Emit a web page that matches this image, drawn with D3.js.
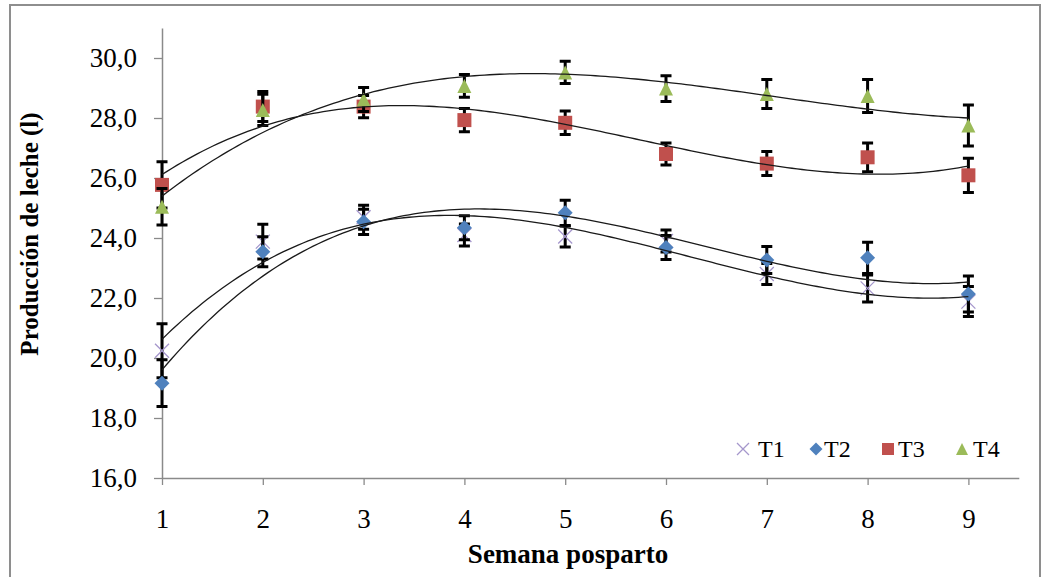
<!DOCTYPE html>
<html>
<head>
<meta charset="utf-8">
<script src="https://cdn.jsdelivr.net/npm/d3@7"></script>
<style>
  html, body { margin: 0; padding: 0; background: #fff; }
  svg { display: block; }
  text { font-family: "Liberation Serif", "Times New Roman", serif; fill: #000; }
</style>
</head>
<body>
<svg id="chart" width="1049" height="577"></svg>
<script>
// Milk production per week postpartum, four treatments (mean ± error)
const weeks = [1, 2, 3, 4, 5, 6, 7, 8, 9];
const t1 = [20.24, 23.88, 24.69, 24.10, 24.05, 23.90, 22.80, 22.32, 21.88];
const t1Err = [0.90, 0.58, 0.40, 0.37, 0.35, 0.37, 0.35, 0.45, 0.50];
const t2 = [19.16, 23.54, 24.54, 24.34, 24.84, 23.68, 23.27, 23.34, 22.13];
const t2Err = [0.78, 0.50, 0.42, 0.40, 0.42, 0.40, 0.45, 0.52, 0.60];
const t3 = [25.77, 28.38, 28.38, 27.93, 27.84, 26.80, 26.48, 26.69, 26.09];
const t3Err = [0.77, 0.50, 0.37, 0.39, 0.39, 0.37, 0.40, 0.48, 0.57];
const t4 = [25.04, 28.27, 28.62, 29.07, 29.52, 28.98, 28.80, 28.73, 27.75];
const t4Err = [0.61, 0.52, 0.40, 0.38, 0.37, 0.43, 0.48, 0.55, 0.68];
const seriesNames = ["T1", "T2", "T3", "T4"];
const yTicks = [16, 18, 20, 22, 24, 26, 28, 30];

const series = [
  { name: seriesNames[0], values: t1, err: t1Err, shape: "cross",    color: "#a597cc" },
  { name: seriesNames[1], values: t2, err: t2Err, shape: "diamond",  color: "#4f81bd" },
  { name: seriesNames[2], values: t3, err: t3Err, shape: "square",   color: "#c0504d" },
  { name: seriesNames[3], values: t4, err: t4Err, shape: "triangle", color: "#9bbb59" }
];

const svg = d3.select("#chart");

// outer chart frame
svg.append("rect")
  .attr("x", 10).attr("y", 5).attr("width", 1030).attr("height", 600)
  .attr("fill", "none").attr("stroke", "#8e8e8e").attr("stroke-width", 2);

const x = d3.scaleLinear().domain([1, 9.5]).range([162, 1018.8]);
const y = d3.scaleLinear().domain([16, 31]).range([478, 28]);

const commaFmt = v => d3.format(".1f")(v).replace(".", ",");

// y axis
const gy = svg.append("g").attr("transform", `translate(${x(1)},0)`)
  .call(d3.axisLeft(y).tickValues(yTicks).tickSize(8).tickSizeOuter(0)
    .tickPadding(17).tickFormat(commaFmt));
gy.select(".domain").attr("stroke", "#8a8a8a").attr("stroke-width", 1.5);
gy.selectAll(".tick line").attr("stroke", "#8a8a8a").attr("stroke-width", 1.3);
gy.selectAll(".tick text").attr("font-size", 27).attr("font-family", "Liberation Serif, Times New Roman, serif")
  .attr("fill", "#000");

// x axis
const gx = svg.append("g").attr("transform", `translate(0,${y(16)})`)
  .call(d3.axisBottom(x).tickValues(weeks).tickSize(7).tickSizeOuter(0).tickFormat(d3.format("d")));
gx.select(".domain").attr("stroke", "#8a8a8a").attr("stroke-width", 1.5);
gx.selectAll(".tick line").attr("stroke", "#8a8a8a").attr("stroke-width", 1.3);
gx.selectAll(".tick text").attr("font-size", 27).attr("font-family", "Liberation Serif, Times New Roman, serif")
  .attr("fill", "#000").attr("y", 50).attr("dy", 0);

// axis titles
svg.append("text").attr("x", 568).attr("y", 563).attr("text-anchor", "middle")
  .attr("font-size", 27).attr("font-weight", "bold").text("Semana posparto");
svg.append("text").attr("transform", "translate(38,234) rotate(-90)").attr("text-anchor", "middle")
  .attr("font-size", 25).attr("font-weight", "bold").text("Producción de leche (l)");

// marker drawing
function drawMarker(g, shape, color, cx, cy, s) {
  const h = s / 2;
  if (shape === "cross") {
    g.append("path").attr("d", `M${cx - h},${cy - h}L${cx + h},${cy + h}M${cx - h},${cy + h}L${cx + h},${cy - h}`)
      .attr("stroke", color).attr("stroke-width", 1.3).attr("fill", "none");
  } else if (shape === "diamond") {
    g.append("path").attr("d", `M${cx},${cy - h}L${cx + h},${cy}L${cx},${cy + h}L${cx - h},${cy}Z`)
      .attr("fill", color);
  } else if (shape === "square") {
    g.append("rect").attr("x", cx - h).attr("y", cy - h).attr("width", s).attr("height", s)
      .attr("fill", color);
  } else if (shape === "triangle") {
    g.append("path").attr("d", `M${cx},${cy - h}L${cx + h},${cy + h}L${cx - h},${cy + h}Z`)
      .attr("fill", color);
  }
}

// points and error bars
const plot = svg.append("g");
series.forEach(s => {
  const g = plot.append("g");
  weeks.forEach((w, i) => {
    const cx = x(w), v = s.values[i], e = s.err[i];
    const yt = y(v + e), yb = y(v - e);
    g.append("path")
      .attr("d", `M${cx},${yt}L${cx},${yb}M${cx - 5.5},${yt}L${cx + 5.5},${yt}M${cx - 5.5},${yb}L${cx + 5.5},${yb}`)
      .attr("stroke", "#000").attr("stroke-width", 3).attr("fill", "none");
  });
  weeks.forEach((w, i) => {
    const size = s.shape === "diamond" ? 15 : 14;
    drawMarker(g, s.shape, s.color, x(w), y(s.values[i]), size);
  });
});

// cubic least-squares trend for each series
function cubicFit(xs, ys) {
  const n = 4;
  const A = Array.from({ length: n }, () => new Array(n + 1).fill(0));
  xs.forEach((xv, k) => {
    for (let r = 0; r < n; r++) {
      for (let c = 0; c < n; c++) A[r][c] += Math.pow(xv, r + c);
      A[r][n] += ys[k] * Math.pow(xv, r);
    }
  });
  for (let col = 0; col < n; col++) {
    let piv = col;
    for (let r = col + 1; r < n; r++) if (Math.abs(A[r][col]) > Math.abs(A[piv][col])) piv = r;
    [A[col], A[piv]] = [A[piv], A[col]];
    for (let r = 0; r < n; r++) {
      if (r === col) continue;
      const f = A[r][col] / A[col][col];
      for (let c = col; c <= n; c++) A[r][c] -= f * A[col][c];
    }
  }
  const coef = A.map((row, i) => row[n] / row[i]);
  return xv => coef.reduce((acc, c, i) => acc + c * Math.pow(xv, i), 0);
}

const line = d3.line().x(d => x(d[0])).y(d => y(d[1])).curve(d3.curveLinear);
const samples = d3.range(1, 9.0001, 0.05);
series.forEach(s => {
  const f = cubicFit(weeks, s.values);
  plot.append("path")
    .attr("d", line(samples.map(t => [t, f(t)])))
    .attr("fill", "none").attr("stroke", "#1a1a1a").attr("stroke-width", 1.3);
});

// legend
const legendItems = [
  { sx: 743, tx: 758 },
  { sx: 816, tx: 824 },
  { sx: 888, tx: 898 },
  { sx: 962, tx: 973 }
];
const leg = svg.append("g");
series.forEach((s, i) => {
  const li = legendItems[i];
  const size = s.shape === "cross" ? 12 : (s.shape === "diamond" ? 13 : 12);
  drawMarker(leg, s.shape, s.color, li.sx, 449, size);
  leg.append("text").attr("x", li.tx).attr("y", 457).attr("font-size", 24).text(s.name);
});
</script>
</body>
</html>
